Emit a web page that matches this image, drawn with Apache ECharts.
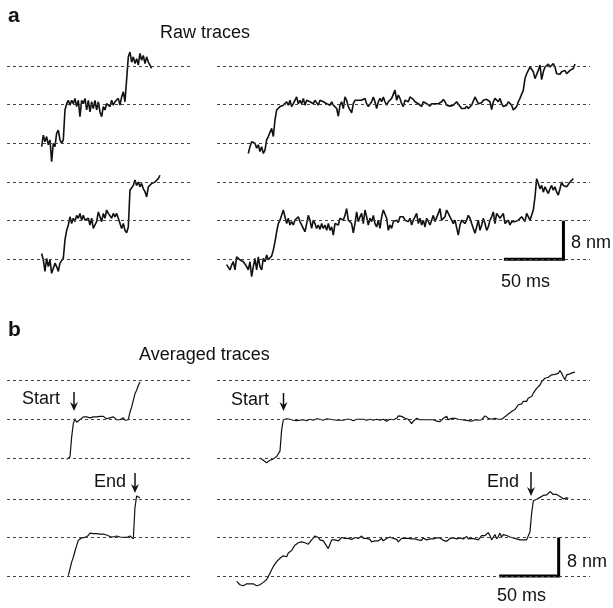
<!DOCTYPE html>
<html><head><meta charset="utf-8">
<script src="https://cdn.jsdelivr.net/npm/echarts@6/dist/echarts.min.js"></script>
<style>html,body{margin:0;padding:0;background:#fff}#c{width:613px;height:608px}</style>
</head><body><div id="c"></div>
<script>
// ---- data (time in ms, displacement in nm) ----
const DT = 1.4;                    // sampling interval of the traces, ms
const LEVELS = [0, 8, 16];         // dashed reference levels, nm
const SCALE_MS = 50, SCALE_NM = 8; // scale bars

// Panel a, raw traces
const rawTopLeftStart = 29.1;
const rawTopLeft = [-0.7,1.7,0.3,1.4,-0.3,0.7,-3.8,0,-0.7,2.1,2.7,0.7,0,0.7,6.9,8.2,8.9,7.9,8.9,8.2,9.3,7.6,8.9,5.5,8.9,8.2,9.3,6.9,8.9,6.5,8.6,7.2,8.9,6.9,8.6,6.5,5.5,7.6,6.9,8.2,7.9,7.6,8.9,7.9,8.6,8.2,9.3,7.9,9.6,10.7,8.6,8.9,17.9,18.9,16.8,17.9,16.5,17.5,16.2,18.6,17.2,18.2,16.5,17.9,16.8,16.2,15.5];

const rawBottomLeftStart = 29.1;
const rawBottomLeft = [1.2,-0.1,-2.5,0.2,-1.5,-0.1,-2.9,-3.2,-0.8,-1.5,-2.5,-0.8,-0.5,0.2,4.0,6.0,7.1,8.8,7.4,8.5,7.8,9.1,8.5,9.5,8.1,9.1,8.1,7.8,8.5,7.1,8.5,6.4,7.1,7.8,9.8,8.8,7.8,9.5,8.5,10.2,9.5,9.1,8.5,9.5,8.8,9.5,8.5,8.1,6.4,7.4,6.0,5.5,6.7,14.3,14.6,15.3,16.4,15.3,16.0,15.0,15.7,14.6,14.0,12.9,15.0,15.3,15.7,15.3,16.0,16.4,16.7,17.4];

const rawTopRightStart = 26.3;
const rawTopRight = [-2.1,-0.7,0.3,0.3,0,-1.0,-0.3,-1.7,-0.7,-2.1,-1.4,0.7,1.4,1.0,3.1,1.4,4.8,6.9,7.2,7.6,7.2,7.9,7.6,8.6,7.9,8.9,7.6,8.2,8.6,9.6,8.2,8.9,8.2,9.3,7.9,8.9,9.3,8.6,8.9,8.2,8.9,8.6,7.9,8.9,9.3,8.6,8.9,8.2,8.6,7.9,8.6,7.9,8.2,7.2,5.6,7.9,8.6,7.2,9.6,8.9,7.6,6.9,6.3,8.2,8.9,9.3,8.9,9.3,8.9,8.6,9.3,8.2,7.6,7.9,8.6,9.6,8.6,7.2,8.6,9.3,8.6,9.6,8.6,7.9,8.6,8.2,9.3,8.9,11.0,8.9,10.0,9.3,8.2,7.6,8.9,9.3,8.6,
  9.6,9.3,9.1,8.6,8.9,8.2,7.9,7.6,8.6,8.6,8.2,7.9,7.7,8.2,8.6,8.2,7.9,8.2,8.1,8.6,9.1,8.6,7.9,8.2,7.7,8.1,7.9,8.2,8.6,8.1,7.7,7.2,7.6,7.2,7.7,7.2,7.6,7.9,8.2,9.6,8.9,8.2,7.9,8.4,8.9,8.6,9.1,9.3,8.6,7.0,8.6,9.3,9.5,8.6,9.3,8.2,7.6,7.2,7.9,8.6,8.9,7.9,6.9,6.5,7.6,8.6,9.3,9.6,11.0,13.4,14.4,15.1,15.8,16.2,14.8,13.4,13.1,15.1,16.2,13.2,14.8,15.8,16.2,16.4,15.8,16.2,16.5,15.8,14.4,14.8,14.3,14.8,14.4,15.1,14.4,14.8,15.1,15.5,15.5,16.4];

const rawBottomRightStart = 8.1;
const rawBottomRight = [-1.1,-1.5,-2.2,-1.2,-0.5,-2.2,0.5,0.2,-0.1,0.2,-0.5,-0.1,-1.5,-2.2,-0.5,-3.6,-1.5,0.2,-2.2,0.5,-1.5,-2.2,0.2,-0.5,0.9,-0.1,0.2,0.7,1.9,3.6,5.7,7.4,8.1,7.8,10.2,8.8,7.4,8.5,7.1,7.8,7.1,8.1,8.5,8.8,7.8,7.4,6.4,5.7,7.4,9.1,8.1,6.4,8.1,7.4,6.4,7.1,6.2,7.4,6.4,7.1,6.0,7.4,6.0,6.7,5.0,7.4,7.8,7.1,8.5,8.8,8.1,9.1,10.5,8.1,7.8,7.4,5.5,7.4,9.8,7.8,8.8,9.5,7.4,10.2,8.8,7.1,8.5,7.8,9.1,7.4,6.7,8.1,6.4,8.8,10.2,9.8,8.5,6.0,7.1,6.4,7.8,7.4,8.1,7.6,8.8,8.5,8.8,8.1,8.5,7.8,
  8.5,7.1,8.1,8.8,9.5,7.4,8.5,7.1,8.1,6.7,8.5,8.1,7.1,8.1,9.1,7.8,7.4,9.5,10.5,8.1,7.8,8.8,10.2,9.5,8.8,8.1,7.4,8.1,7.8,5.0,7.1,8.1,8.5,7.4,8.1,9.1,8.5,7.4,6.4,5.4,6.7,8.1,6.0,7.1,8.5,7.4,6.0,6.7,8.1,8.8,9.8,7.4,9.5,9.8,8.5,8.8,9.5,7.4,7.1,8.1,7.1,7.8,7.4,7.8,7.4,8.1,7.8,8.8,9.1,7.8,9.5,9.8,8.1,7.8,10.2,12.9,16.7,15.7,14.6,15.3,13.9,15.0,14.6,13.6,14.6,15.3,14.3,15.0,13.9,13.3,14.6,16.0,15.3,15.7,15.0,14.6,16.0,15.7,16.7];

// Panel b, averaged traces
const avgStartLeftStart = 50.1;
const avgStartLeft = [-0.3,-0.5,0.2,4.3,7.1,8.1,7.4,7.8,7.9,8.1,8.5,8.2,8.5,8.8,8.3,8.6,8.5,8.6,8.5,8.8,8.6,8.5,8.6,8.5,8.1,8.5,8.3,8.1,8.5,8.1,7.9,8.3,7.9,8.1,8.3,7.8,8.1,7.9,9.5,10.5,11.9,13.3,14.0,15.0,15.7];

const avgEndLeftStart = 51.5;
const avgEndLeft = [0.1,1.5,2.9,3.9,5.2,6.3,7.4,7.8,7.9,7.9,8.0,8.2,8.4,8.9,8.9,8.8,8.8,8.8,8.7,8.7,8.7,8.7,8.5,8.5,8.5,8.2,8.3,8.1,8.2,8.3,8.0,8.1,7.8,8.0,8.3,8.0,8.1,8.3,8.2,7.7,14.2,16.6,16.2,16.2];

const avgStartRightStart = 36.1;
const avgStartRight = [0,-0.3,-0.5,-0.7,-1.0,-0.7,-0.5,-0.3,-0.2,0,0.3,0.7,1.4,5.8,7.9,8.2,8.1,8.2,8.0,8.0,7.8,7.8,7.7,7.6,7.8,7.8,7.9,8.0,7.7,7.7,8.0,7.8,7.8,8.2,8.1,8.2,8.0,7.7,7.8,8.0,8.1,8.0,8.0,7.9,7.9,7.8,7.8,7.6,7.8,8.0,7.8,7.8,8.0,7.8,8.0,8.0,7.7,7.8,8.0,7.9,8.0,8.0,8.0,7.9,7.8,8.0,8.0,8.0,7.8,7.9,8.0,7.7,7.8,7.9,8.0,8.0,7.6,7.8,8.0,8.1,7.9,7.8,8.2,8.7,9.1,8.6,8.5,8.2,7.8,8.0,
  7.7,7.1,7.6,8.0,8.2,8.0,7.9,8.0,7.9,7.8,7.9,7.8,7.9,7.7,7.9,7.8,7.6,7.8,7.5,7.9,8.2,8.0,8.6,7.9,7.7,8.2,8.6,8.2,8.5,8.0,8.2,7.9,8.0,7.8,8.0,7.7,7.9,7.6,8.0,7.9,8.2,7.8,8.0,7.9,8.2,8.7,8.5,8.2,8.5,8.0,7.9,8.2,7.8,8.0,7.9,8.0,8.2,8.5,8.7,9.1,9.3,9.6,9.8,10.0,10.3,11.0,11.3,11.2,11.7,11.5,11.7,12.4,12.2,12.7,13.4,13.7,14.4,14.8,15.1,15.8,16.2,16.5,16.8,16.7,17.0,17.2,17.2,17.3,17.2,17.5,18.1,17.5,16.8,16.2,17.2,17.0,17.4,17.5,17.7,17.7];

const avgEndRightStart = 16.5;
const avgEndRight = [-1.1,-1.5,-1.8,-2.2,-2.0,-2.2,-1.6,-1.3,-1.6,-1.5,-1.6,-1.8,-2.0,-2.2,-1.8,-1.6,-1.3,-0.9,-0.7,-0.1,0.6,1.3,2.0,2.1,3.0,3.3,3.7,3.7,4.2,4.4,4.0,4.8,4.7,5.3,5.9,6.4,6.4,6.9,7.3,7.1,7.1,6.9,6.8,6.6,6.8,7.5,7.8,8.3,8.5,8.0,7.5,7.6,7.3,7.1,6.2,5.7,6.6,7.5,7.8,7.5,7.6,7.3,7.5,8.0,8.3,7.8,8.0,7.8,8.1,7.6,7.8,8.0,7.6,7.8,8.0,8.3,7.8,7.6,7.8,8.0,7.6,7.1,6.8,7.3,7.6,7.3,7.5,7.8,7.3,7.6,7.8,7.6,8.1,8.5,7.8,8.0,7.6,7.1,7.5,7.8,7.6,7.8,8.0,7.8,
  7.5,7.7,7.4,7.7,7.9,7.5,7.7,7.4,7.9,7.7,7.5,7.8,7.7,7.9,7.7,8.1,7.9,7.7,7.9,7.7,7.4,7.7,7.2,7.5,7.8,7.5,7.9,7.5,7.7,7.7,7.9,8.1,7.7,7.9,8.2,7.7,8.0,7.8,8.1,7.7,7.9,7.5,7.9,8.4,8.1,8.4,8.8,9.0,8.4,7.5,8.1,8.6,7.7,8.2,8.9,8.1,8.6,8.8,8.4,8.6,8.1,8.2,7.9,8.1,7.7,7.9,7.5,7.8,7.5,7.7,7.5,7.7,9.2,13.0,15.6,16.0,15.9,16.0,16.3,16.4,16.7,16.9,16.8,16.9,17.5,17.4,16.9,16.9,16.9,16.5,16.5,16.3,16.0,16.2,16.2,16.1];

// Scale bars (drawn in the bottom-right plot of each panel)
const scaleBarA = {t0: 241, t1: 241 + SCALE_MS};
const scaleBarB = {t0: 237, t1: 237 + SCALE_MS};

// ---- layout ----
const PX_PER_MS = 1.1905, PX_PER_NM = 4.83;
const Y_MIN = -6, Y_MAX = 22;
const COLS = {left: {x: 7, w: 183}, right: {x: 217, w: 373}};
const BASES = [143.3, 259.3, 457.9, 576.1];

const plots = [
  {col: 'left',  row: 0, start: rawTopLeftStart,     values: rawTopLeft,     w: 1.6},
  {col: 'right', row: 0, start: rawTopRightStart,    values: rawTopRight,    w: 1.6},
  {col: 'left',  row: 1, start: rawBottomLeftStart,  values: rawBottomLeft,  w: 1.6},
  {col: 'right', row: 1, start: rawBottomRightStart, values: rawBottomRight, w: 1.6, bar: scaleBarA},
  {col: 'left',  row: 2, start: avgStartLeftStart,   values: avgStartLeft,   w: 1.2},
  {col: 'right', row: 2, start: avgStartRightStart,  values: avgStartRight,  w: 1.2},
  {col: 'left',  row: 3, start: avgEndLeftStart,     values: avgEndLeft,     w: 1.2},
  {col: 'right', row: 3, start: avgEndRightStart,    values: avgEndRight,    w: 1.2, bar: scaleBarB}
];

const grid = [], xAxis = [], yAxis = [], series = [];
plots.forEach((p, i) => {
  const c = COLS[p.col];
  grid.push({left: c.x, width: c.w, top: BASES[p.row] - Y_MAX * PX_PER_NM,
             height: (Y_MAX - Y_MIN) * PX_PER_NM, containLabel: false});
  xAxis.push({type: 'value', gridIndex: i, min: 0, max: c.w / PX_PER_MS, show: false});
  yAxis.push({type: 'value', gridIndex: i, min: Y_MIN, max: Y_MAX, show: false});
  series.push({
    type: 'line', xAxisIndex: i, yAxisIndex: i, data: [], z: 1, silent: true,
    markLine: {silent: true, symbol: ['none', 'none'], label: {show: false},
      lineStyle: {color: '#444', type: [3, 3], width: 1}, emphasis: {disabled: true},
      data: LEVELS.map(v => ({yAxis: v}))}
  });
  series.push({
    type: 'line', xAxisIndex: i, yAxisIndex: i, z: 3, showSymbol: false, silent: true,
    lineStyle: {color: '#111', width: p.w}, clip: false,
    data: p.values.map((v, k) => [p.start + k * DT, v])
  });
  if (p.bar) {
    series.push({
      type: 'line', xAxisIndex: i, yAxisIndex: i, z: 4, showSymbol: false, silent: true,
      lineStyle: {color: '#000', width: 3, cap: 'butt', join: 'miter'}, clip: false,
      data: [[p.bar.t0, 0], [p.bar.t1, 0], [p.bar.t1, SCALE_NM]]
    });
  }
});

const FONT = '"Liberation Sans", Arial, sans-serif';
function txt(x, y, s, size, bold) {
  return {type: 'text', silent: true, style: {x: x, y: y, text: s, fill: '#111',
    font: (bold ? 'bold ' : '') + size + 'px ' + FONT, align: 'left', verticalAlign: 'middle'}};
}
function arrow(x, y1, y2) {
  return {type: 'group', silent: true, children: [
    {type: 'line', shape: {x1: x, y1: y1, x2: x, y2: y2 - 6}, style: {stroke: '#111', lineWidth: 1.5}},
    {type: 'polygon', shape: {points: [[x - 4, y2 - 9], [x, y2 - 6], [x + 4, y2 - 9], [x, y2]]}, style: {fill: '#111'}}
  ]};
}

const LABEL = 18;
const graphic = [
  txt(8, 16, 'a', 21, true),
  txt(160, 33, 'Raw traces', LABEL),
  txt(571, 243, '8 nm', LABEL),
  txt(501, 282, '50 ms', LABEL),
  txt(8, 330, 'b', 21, true),
  txt(139, 355, 'Averaged traces', LABEL),
  txt(22, 399, 'Start', LABEL),
  arrow(74, 392, 411),
  txt(231, 400, 'Start', LABEL),
  arrow(283.5, 393, 411),
  txt(94, 482, 'End', LABEL),
  arrow(135, 473, 493),
  txt(487, 482, 'End', LABEL),
  arrow(531, 472, 496),
  txt(567, 562, '8 nm', LABEL),
  txt(497, 596, '50 ms', LABEL)
];

const chart = echarts.init(document.getElementById('c'));
chart.setOption({animation: false, backgroundColor: '#fff', grid, xAxis, yAxis, series, graphic});
</script></body></html>
